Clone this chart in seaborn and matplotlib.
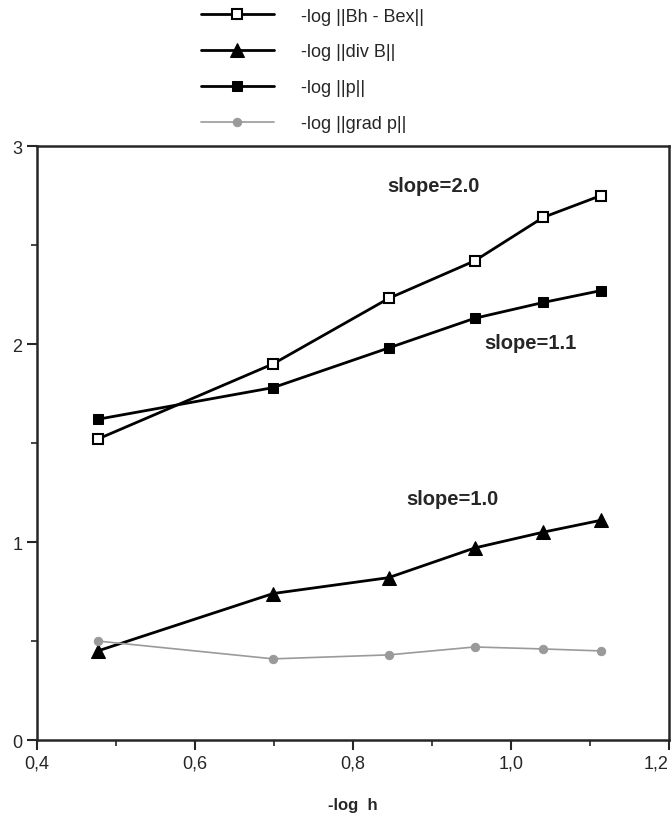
import matplotlib
matplotlib.use("Agg")
import matplotlib.pyplot as plt
import matplotlib.ticker as mticker
import seaborn as sns
import numpy as np

# -log h for h = 1/3, 1/5, ..., 1/13
neg_log_h = [0.477, 0.699, 0.845, 0.954, 1.041, 1.114]

err_b = [1.52, 1.90, 2.23, 2.42, 2.64, 2.75]
err_div = [0.45, 0.74, 0.82, 0.97, 1.05, 1.11]
err_p = [1.62, 1.78, 1.98, 2.13, 2.21, 2.27]
err_gradp = [0.50, 0.41, 0.43, 0.47, 0.46, 0.45]

labels = ["-log ||Bh - Bex||", "-log ||div B||", "-log ||p||", "-log ||grad p||"]
x_ticks = [0.4, 0.6, 0.8, 1.0, 1.2]
x_ticklabels = ["0,4", "0,6", "0,8", "1,0", "1,2"]

sns.set_style("ticks")
plt.rcParams["font.family"] = ["Liberation Sans", "DejaVu Sans"]

fig = plt.figure(figsize=(6.72, 8.20), dpi=100)
ax = fig.add_axes([0.055, 0.0963, 0.9405, 0.7244])

sns.lineplot(x=neg_log_h, y=err_b, ax=ax, color="black", lw=2, marker="s", ms=7,
             markerfacecolor="white", markeredgecolor="black", mew=1.5, label=labels[0])
sns.lineplot(x=neg_log_h, y=err_div, ax=ax, color="black", lw=2, marker="^", ms=10,
             markerfacecolor="black", markeredgecolor="black", label=labels[1])
sns.lineplot(x=neg_log_h, y=err_p, ax=ax, color="black", lw=2, marker="s", ms=7,
             markerfacecolor="black", markeredgecolor="black", label=labels[2])
sns.lineplot(x=neg_log_h, y=err_gradp, ax=ax, color="#9a9a9a", lw=1.2, marker="o", ms=6,
             markerfacecolor="#9a9a9a", markeredgecolor="#9a9a9a", label=labels[3])

ax.set_xlim(0.4, 1.2)
ax.set_ylim(0, 3)
ax.xaxis.set_minor_locator(mticker.MultipleLocator(0.1))
ax.yaxis.set_major_locator(mticker.MultipleLocator(1))
ax.yaxis.set_minor_locator(mticker.MultipleLocator(0.5))
ax.tick_params(which="major", length=7, width=1.5, labelsize=13, direction="out")
ax.tick_params(which="minor", length=4, width=1.2, direction="out")
for s in ax.spines.values():
    s.set_linewidth(1.8)
    s.set_visible(True)

ax.set_xlabel("-log  h", fontsize=12, fontweight="bold", labelpad=18)
ax.set_ylabel("")

ax.text(0.843, 2.80, "slope=2.0", fontsize=14.5, fontweight="bold", va="center", ha="left")
ax.text(0.966, 2.01, "slope=1.1", fontsize=14.5, fontweight="bold", va="center", ha="left")
ax.text(0.868, 1.22, "slope=1.0", fontsize=14.5, fontweight="bold", va="center", ha="left")

handles, labs = ax.get_legend_handles_labels()
ax.get_legend().remove()
fig.legend(handles, labs, loc="upper left", bbox_to_anchor=(0.280, 1.005), frameon=False,
           fontsize=13, handlelength=4.05, labelspacing=1.05, borderpad=0.2, handletextpad=1.5)

# comma decimals; last label kept inside the figure edge
ax.set_xticks(x_ticks, x_ticklabels)
ax.get_xticklabels()[-1].set_horizontalalignment("right")

fig.savefig("out.png", dpi=100)
